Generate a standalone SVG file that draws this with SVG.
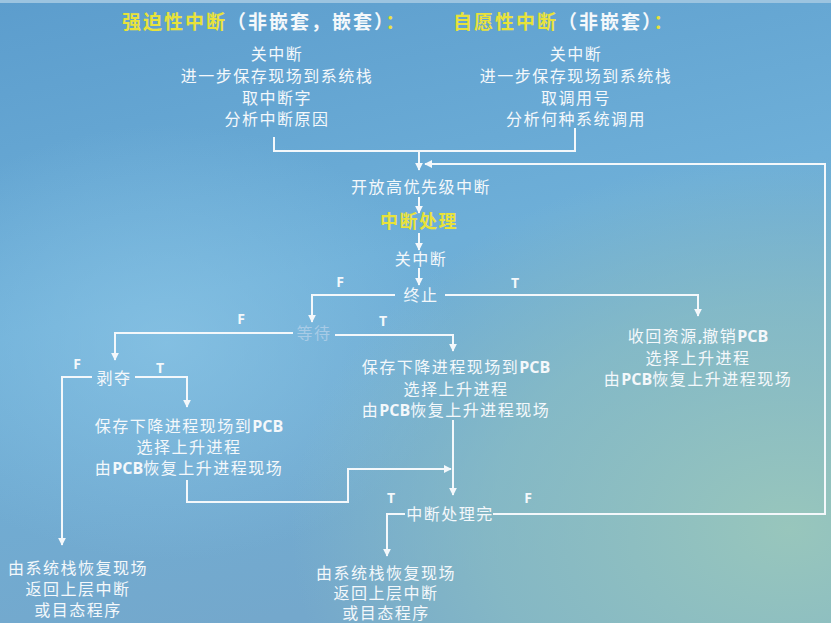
<svg xmlns="http://www.w3.org/2000/svg" width="831" height="623" viewBox="0 0 831 623">
<defs>
<linearGradient id="bg" x1="0" y1="0" x2="0.3" y2="1">
<stop offset="0" stop-color="#5c9dcd"/>
<stop offset="0.5" stop-color="#6eafd8"/>
<stop offset="1" stop-color="#74a8cc"/>
</linearGradient>
<radialGradient id="teal" cx="0.95" cy="0.85" r="0.6">
<stop offset="0" stop-color="#98c6bc" stop-opacity="1"/>
<stop offset="0.6" stop-color="#90c2c0" stop-opacity="0.6"/>
<stop offset="1" stop-color="#90c2c0" stop-opacity="0"/>
</radialGradient>
<radialGradient id="glow" cx="0.2" cy="0.55" r="0.35">
<stop offset="0" stop-color="#8cc6e6" stop-opacity="0.7"/>
<stop offset="1" stop-color="#8cc6e6" stop-opacity="0"/>
</radialGradient>
<marker id="ah" viewBox="0 0 10 10" refX="9" refY="5" markerWidth="4" markerHeight="4" orient="auto" markerUnits="strokeWidth">
<path d="M0,0 L10,5 L0,10 Z" fill="#f4f8fb"/>
</marker>
<style>
.t{font-family:"Liberation Sans","Noto Sans CJK SC",sans-serif;font-size:16px;fill:#f4f8fb;text-anchor:middle;dominant-baseline:central;letter-spacing:1.5px}
.h{font-family:"Liberation Sans","Noto Sans CJK SC",sans-serif;font-size:19px;font-weight:bold;fill:#f4f8fb;dominant-baseline:central;letter-spacing:2px}
.y{fill:#e8e23a}
.p{font-family:"Open Sans","Liberation Sans",sans-serif;font-weight:bold;letter-spacing:0}
.l{font-family:"Open Sans","Liberation Sans",sans-serif;font-size:14px;font-weight:bold;fill:#f4f8fb;text-anchor:middle;dominant-baseline:central}
.c{fill:none;stroke:#f4f8fb;stroke-width:2}
.a{marker-end:url(#ah)}
</style>
</defs>
<rect width="831" height="623" fill="url(#bg)"/>
<rect width="831" height="623" fill="url(#glow)"/>
<rect width="831" height="623" fill="url(#teal)"/>
<rect width="831" height="3" fill="#9cc4e0"/>

<g id="title-forced"><text class="h" x="122" y="22"><tspan class="y">强迫性中断</tspan>（非嵌套，嵌套）<tspan class="y">：</tspan></text></g>
<g id="title-voluntary"><text class="h" x="453" y="22"><tspan class="y">自愿性中断</tspan>（非嵌套）<tspan class="y">：</tspan></text></g>

<g id="forced-steps">
<text class="t" x="277" y="54">关中断</text>
<text class="t" x="277" y="76">进一步保存现场到系统栈</text>
<text class="t" x="277" y="98">取中断字</text>
<text class="t" x="277" y="119">分析中断原因</text>
</g>
<g id="voluntary-steps">
<text class="t" x="576" y="54">关中断</text>
<text class="t" x="576" y="76">进一步保存现场到系统栈</text>
<text class="t" x="576" y="98">取调用号</text>
<text class="t" x="576" y="119">分析何种系统调用</text>
</g>
<g id="open-high"><text class="t" x="421" y="187">开放高优先级中断</text></g>
<g id="int-handle"><text class="t y" x="419" y="222" style="font-size:18px;font-weight:bold">中断处理</text></g>
<g id="close-int"><text class="t" x="421" y="259">关中断</text></g>
<g id="terminate"><text class="t" x="421" y="295">终止</text></g>
<g id="wait"><text class="t" x="314" y="333" style="fill:#a8cbe6">等待</text></g>
<g id="preempt"><text class="t" x="114" y="378">剥夺</text></g>
<g id="reclaim">
<text class="t" x="698" y="336">收回资源<tspan class="p">,</tspan>撤销<tspan class="p">PCB</tspan></text>
<text class="t" x="698" y="358">选择上升进程</text>
<text class="t" x="698" y="379">由<tspan class="p">PCB</tspan>恢复上升进程现场</text>
</g>
<g id="save-wait">
<text class="t" x="456" y="367">保存下降进程现场到<tspan class="p">PCB</tspan></text>
<text class="t" x="456" y="389">选择上升进程</text>
<text class="t" x="456" y="410">由<tspan class="p">PCB</tspan>恢复上升进程现场</text>
</g>
<g id="save-preempt">
<text class="t" x="189" y="426">保存下降进程现场到<tspan class="p">PCB</tspan></text>
<text class="t" x="189" y="447">选择上升进程</text>
<text class="t" x="189" y="468">由<tspan class="p">PCB</tspan>恢复上升进程现场</text>
</g>
<g id="done"><text class="t" x="450" y="514">中断处理完</text></g>
<g id="restore-left">
<text class="t" x="78" y="568">由系统栈恢复现场</text>
<text class="t" x="78" y="589">返回上层中断</text>
<text class="t" x="78" y="610">或目态程序</text>
</g>
<g id="restore-center">
<text class="t" x="386" y="573">由系统栈恢复现场</text>
<text class="t" x="386" y="593">返回上层中断</text>
<text class="t" x="386" y="613">或目态程序</text>
</g>

<g id="connectors">
<path class="c" d="M274,137 V151 H575 V128"/>
<path class="c a" d="M419,151 V170"/>
<path class="c a" d="M493,514 H825 V164 H425"/>
<path class="c a" d="M419,197 V213"/>
<path class="c a" d="M419,233 V250"/>
<path class="c a" d="M419,268 V285"/>
<path class="c a" d="M395,295 H312 V322"/>
<path class="c a" d="M445,295 H698 V316"/>
<path class="c a" d="M293,333 H115 V360"/>
<path class="c a" d="M335,335 H453 V351"/>
<path class="c a" d="M92,377 H62 V545"/>
<path class="c a" d="M135,377 H187 V407"/>
<path class="c a" d="M187,480 V502 H348 V469 H451"/>
<path class="c a" d="M453,420 V495"/>
<path class="c a" d="M405,514 H387 V556"/>
<text class="l" x="340" y="281">F</text>
<text class="l" x="515" y="282">T</text>
<text class="l" x="241" y="318">F</text>
<text class="l" x="383" y="320">T</text>
<text class="l" x="77" y="363">F</text>
<text class="l" x="160" y="367">T</text>
<text class="l" x="391" y="497">T</text>
<text class="l" x="528" y="497">F</text>
</g>
</svg>
